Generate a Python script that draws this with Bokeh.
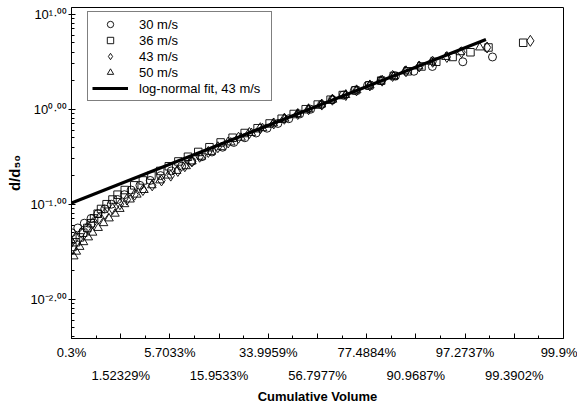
from statistics import NormalDist
from bokeh.plotting import figure
from bokeh.models import (ColumnDataSource, FixedTicker, LinearAxis, Legend,
                          LegendItem, Range1d, Title)
from bokeh.embed import file_html
from bokeh.resources import INLINE

# ---------------- data ----------------
tick_pct = [0.3, 1.52329, 5.7033, 15.9533, 33.9959, 56.7977, 77.4884, 90.9687, 97.2737, 99.3902, 99.9]
tick_lbl = ["0.3%", "1.52329%", "5.7033%", "15.9533%", "33.9959%", "56.7977%",
            "77.4884%", "90.9687%", "97.2737%", "99.3902%", "99.9%"]

# 30 m/s (circles)
c30_d = [0.0501, 0.0562, 0.0631, 0.0708, 0.0794, 0.0891, 0.100, 0.112, 0.126, 0.141,
         0.158, 0.178, 0.200, 0.224, 0.251, 0.282, 0.316, 0.355, 0.398, 0.447,
         0.501, 0.562, 0.631, 0.708, 0.794, 0.891, 1.00, 1.12, 1.26, 1.41,
         1.58, 1.78, 2.00, 2.24, 2.51, 2.82, 3.16, 3.55]
c30_cum = [0.30, 0.376, 0.472, 0.594, 0.748, 0.931, 1.142, 1.390, 1.699, 2.065,
           2.645, 3.485, 4.55, 5.89, 7.48, 9.34, 11.49, 14.0, 16.98, 20.55,
           24.49, 28.86, 33.45, 38.25, 43.29, 48.40, 53.59, 58.70, 63.63, 68.39,
           72.87, 77.79, 82.25, 86.34, 90.58, 93.75, 97.10, 98.77]

# 36 m/s (squares)
s36_d = [0.0355, 0.0398, 0.0447, 0.0501, 0.0562, 0.0631, 0.0708, 0.0794, 0.0891, 0.100,
         0.112, 0.126, 0.141, 0.158, 0.178, 0.200, 0.224, 0.251, 0.282, 0.316,
         0.355, 0.398, 0.447, 0.501, 0.562, 0.631, 0.708, 0.794, 0.891, 1.00,
         1.12, 1.26, 1.41, 1.58, 1.78, 2.00, 2.24, 2.51, 2.82, 3.16,
         3.55, 3.98, 4.47, 5.01]
s36_cum = [0.31, 0.352, 0.404, 0.456, 0.523, 0.587, 0.657, 0.740, 0.826, 0.986,
           1.187, 1.386, 1.718, 2.255, 2.865, 3.60, 4.50, 5.56, 6.95, 8.60,
           10.68, 13.33, 16.40, 20.16, 24.42, 29.47, 34.57, 39.98, 45.58, 51.24,
           56.91, 62.8, 68.1, 73.3, 78.4, 82.3, 85.9, 89.3, 92.0, 94.3,
           96.2, 97.65, 98.61, 99.55]

# 43 m/s (diamonds)
d43_d = [0.0398, 0.0447, 0.0501, 0.0562, 0.0631, 0.0708, 0.0794, 0.0891, 0.100, 0.112,
         0.126, 0.141, 0.158, 0.178, 0.200, 0.224, 0.251, 0.282, 0.316, 0.355,
         0.398, 0.447, 0.501, 0.562, 0.631, 0.708, 0.794, 0.891, 1.00, 1.12,
         1.26, 1.41, 1.58, 1.78, 2.00, 2.24, 2.51, 2.82, 3.16, 3.55,
         3.98, 4.47, 5.25]
d43_cum = [0.30, 0.349, 0.426, 0.517, 0.628, 0.768, 0.932, 1.19, 1.49, 1.83,
           2.28, 2.87, 3.67, 4.65, 5.82, 6.86, 8.03, 9.36, 10.99, 13.04,
           15.60, 18.70, 22.18, 26.2, 30.6, 36.4, 41.2, 47.5, 52.6, 58.8,
           63.6, 69.4, 73.7, 78.6, 82.6, 85.6, 88.9, 91.6, 93.8, 95.6,
           97.0, 98.55, 99.65]

# 50 m/s (triangles)
t50_d = [0.0282, 0.0316, 0.0355, 0.0398, 0.0447, 0.0501, 0.0562, 0.0631, 0.0708, 0.0794,
         0.0891, 0.100, 0.112, 0.126, 0.141, 0.158, 0.178, 0.200, 0.224, 0.251,
         0.282, 0.316, 0.355, 0.398, 0.447, 0.501, 0.562, 0.631, 0.708, 0.794,
         0.891, 1.00, 1.12, 1.26, 1.41, 1.58, 1.78, 2.00, 2.24, 2.51,
         2.82, 3.16, 3.55, 3.98, 4.47]
t50_cum = [0.326, 0.357, 0.402, 0.459, 0.542, 0.626, 0.752, 0.896, 1.067, 1.282,
           1.485, 1.707, 2.006, 2.43, 2.95, 3.64, 4.47, 5.45, 6.68, 8.27,
           9.36, 11.38, 13.70, 16.60, 19.55, 23.11, 27.0, 31.56, 36.2, 41.4,
           47.3, 52.6, 58.6, 63.7, 69.3, 73.8, 78.6, 82.1, 85.9, 88.6,
           91.5, 93.6, 95.5, 96.9, 98.2]

# log-normal fit, 43 m/s
fit_median = 0.944        # d/d50 at 50 %
fit_log_sigma = 0.350     # log10 spread per probit unit
fit_pct = [0.3, 98.5]

y_decades = [1, 0, -1, -2]
y_tick_lbl = ["10\u00b9\u00b7\u2070\u2070", "10\u2070\u00b7\u2070\u2070",
              "10\u207b\u00b9\u00b7\u2070\u2070", "10\u207b\u00b2\u00b7\u2070\u2070"]

# ---------------- helpers ----------------
ND = NormalDist()


def probit(pct):
    return ND.inv_cdf(pct / 100.0)


FONT = "Liberation Sans"

x0, x1 = probit(tick_pct[0]), probit(tick_pct[-1])
p = figure(width=577, height=404, x_range=Range1d(x0, x1),
           y_range=Range1d(0.003855, 11.78), y_axis_type="log",
           output_backend="svg", toolbar_location=None,
           min_border_left=71, min_border_right=14, min_border_top=7, min_border_bottom=0)
p.grid.visible = False
p.outline_line_color = "black"
p.outline_line_width = 1
p.background_fill_color = "white"
p.border_fill_color = "white"

# ---- x axis (two staggered label rows) ----
z_ticks = [round(probit(v), 6) for v in tick_pct]
z_minor = [a + (b - a) * 0.5 for a, b in zip(z_ticks[:-1], z_ticks[1:])]

ax1 = p.xaxis[0]
ax1.ticker = FixedTicker(ticks=z_ticks, minor_ticks=z_minor)
ax1.major_label_overrides = {z: (l if i % 2 == 0 else " ") for i, (z, l) in enumerate(zip(z_ticks, tick_lbl))}
ax1.axis_line_color = "black"
ax1.major_tick_in = 5
ax1.major_tick_out = 0
ax1.minor_tick_in = 3
ax1.minor_tick_out = 0
ax1.major_label_standoff = 6
ax1.major_label_text_font = FONT
ax1.major_label_text_font_size = "13px"
ax1.major_label_text_color = "black"

odd_z = [z for i, z in enumerate(z_ticks) if i % 2 == 1]
ax2 = LinearAxis(ticker=FixedTicker(ticks=odd_z, minor_ticks=[]),
                 major_label_overrides={z: l for i, (z, l) in enumerate(zip(z_ticks, tick_lbl)) if i % 2 == 1},
                 axis_line_color=None, major_tick_line_color=None, minor_tick_line_color=None,
                 major_tick_in=0, major_tick_out=0, minor_tick_in=0, minor_tick_out=0,
                 major_label_standoff=5, major_label_text_font=FONT,
                 major_label_text_font_size="13px", major_label_text_color="black")
p.add_layout(ax2, "below")

xt = Title(text="Cumulative Volume", align="center", text_font=FONT, text_font_size="13px",
           text_font_style="bold", text_color="black", standoff=2, offset=-7)
p.add_layout(xt, "below")

# ---- y axis ----
ay = p.yaxis[0]
minors = [m * 10.0 ** k for k in range(-3, 2) for m in range(2, 10)]
ay.ticker = FixedTicker(ticks=[10.0 ** k for k in y_decades], minor_ticks=minors)
ay.major_label_overrides = {10.0 ** k: l for k, l in zip(y_decades, y_tick_lbl)}
ay.major_label_text_font = FONT
ay.major_label_text_font_size = "13px"
ay.major_label_text_color = "black"
ay.major_label_standoff = 1
ay.major_tick_in = 4
ay.major_tick_out = 3
ay.minor_tick_in = 3
ay.minor_tick_out = 0
ay.axis_line_color = "black"
ay.axis_label = "d/d\u2085\u2080"
ay.axis_label_text_font = FONT
ay.axis_label_text_font_size = "15px"
ay.axis_label_text_font_style = "bold"
ay.axis_label_text_color = "black"
ay.axis_label_standoff = 4

# ---- data ----
series = [
    ("30 m/s", c30_cum, c30_d, "circle", 8),
    ("36 m/s", s36_cum, s36_d, "square", 7.5),
    ("43 m/s", d43_cum, d43_d, "diamond", 11),
    ("50 m/s", t50_cum, t50_d, "triangle", 8.5),
]
items = []
for name, cum, d, marker, size in series:
    src = ColumnDataSource(dict(x=[probit(c) for c in cum], y=d))
    r = p.scatter("x", "y", source=src, marker=marker, size=size, fill_color=None,
                  line_color="black", line_width=0.9)
    items.append(LegendItem(label=name, renderers=[r]))

fz = [probit(v) for v in fit_pct]
fit_src = ColumnDataSource(dict(x=fz, y=[fit_median * 10 ** (fit_log_sigma * z) for z in fz]))
rl = p.line("x", "y", source=fit_src, line_color="black", line_width=3.2)
items.append(LegendItem(label="log-normal fit, 43 m/s", renderers=[rl]))

leg = Legend(items=items, location=(16, 237), padding=4, spacing=0, glyph_width=36,
             glyph_height=16, label_height=16, label_standoff=11, label_width=128,
             label_text_font=FONT, label_text_font_size="13px", label_text_color="black",
             border_line_color="black", border_line_width=1, background_fill_color="white",
             background_fill_alpha=1.0, margin=0)
p.add_layout(leg, "center")

open("out.html", "w").write(file_html(p, INLINE))
